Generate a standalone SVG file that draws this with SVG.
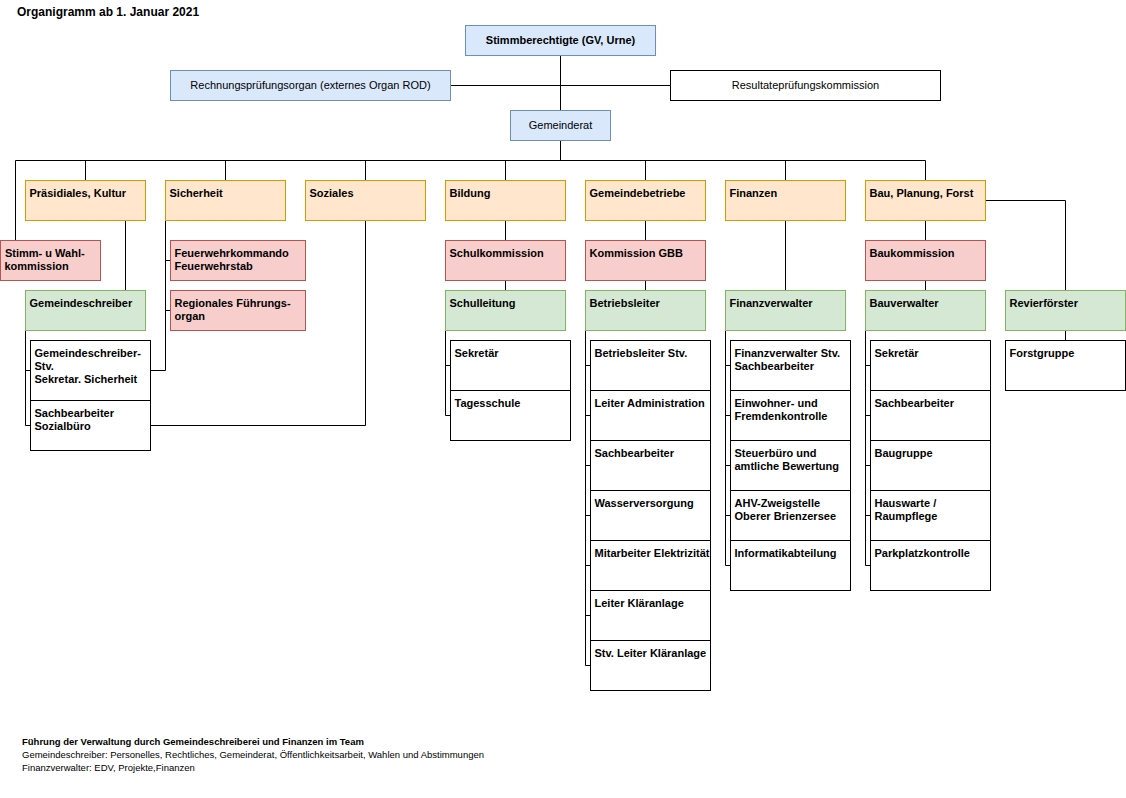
<svg xmlns="http://www.w3.org/2000/svg" width="1126" height="798" viewBox="0 0 1126 798">
<style>
.o{fill:#ffe6cc;stroke:#d79b00}
.r{fill:#f8cecc;stroke:#b85450}
.g{fill:#d5e8d4;stroke:#82b366}
.b{fill:#dae8fc;stroke:#6c8ebf}
.w{fill:#ffffff;stroke:#000000}
text{font-family:"Liberation Sans",Arial,sans-serif;font-size:11px;fill:#000}
.t{font-weight:bold}
.c{text-anchor:middle}
.f{font-size:9.5px}
#connectors path{fill:none;stroke:#000;stroke-width:1}
</style>
<rect width="1126" height="798" fill="#ffffff"/>
<text x="17" y="16" class="t" style="font-size:12px">Organigramm ab 1. Januar 2021</text>

<g id="connectors">
<path d="M560.5 55.5V110.5M450.5 85.5H670.5M560.5 140.5V160.5M15.5 160.5H925.5M15.5 160.5V240.5M85.5 160.5V180.5M225.5 160.5V180.5M365.5 160.5V180.5M505.5 160.5V180.5M645.5 160.5V180.5M785.5 160.5V180.5M925.5 160.5V180.5"/>
<path d="M125.5 220.5V290.5"/>
<path d="M165.5 220.5V370.5H150.5M165.5 260.5H170.5M165.5 310.5H170.5"/>
<path d="M365.5 220.5V425.5H150.5"/>
<path d="M25.5 330.5V425.5H30.5M25.5 370.5H30.5"/>
<path d="M505.5 220.5V240.5M505.5 280.5V290.5M445.5 330.5V415.5H450.5M445.5 365.5H450.5"/>
<path d="M645.5 220.5V240.5M645.5 280.5V290.5M585.5 330.5V665.5H590.5M585.5 365.5H590.5M585.5 415.5H590.5M585.5 465.5H590.5M585.5 515.5H590.5M585.5 565.5H590.5M585.5 615.5H590.5"/>
<path d="M785.5 220.5V290.5M725.5 330.5V565.5H730.5M725.5 365.5H730.5M725.5 415.5H730.5M725.5 465.5H730.5M725.5 515.5H730.5"/>
<path d="M925.5 220.5V240.5M925.5 280.5V290.5M865.5 330.5V565.5H870.5M865.5 365.5H870.5M865.5 415.5H870.5M865.5 465.5H870.5M865.5 515.5H870.5"/>
<path d="M985.5 200.5H1065.5V290.5M1065.5 330.5V340.5"/>
</g>

<g id="stimmberechtigte"><rect class="b" x="465.5" y="25.5" width="190" height="30"/><text class="t c" x="560.5" y="44">Stimmberechtigte (GV, Urne)</text></g>
<g id="rpo"><rect class="b" x="170.5" y="70.5" width="280" height="30"/><text class="c" x="310.5" y="89">Rechnungsprüfungsorgan (externes Organ ROD)</text></g>
<g id="rpk"><rect class="w" x="670.5" y="70.5" width="270" height="30"/><text class="c" x="805.5" y="89">Resultateprüfungskommission</text></g>
<g id="gemeinderat"><rect class="b" x="510.5" y="110.5" width="100" height="30"/><text class="c" x="560.5" y="129">Gemeinderat</text></g>

<g id="praesidiales"><rect class="o" x="25.5" y="180.5" width="120" height="40"/><text class="t" x="29.5" y="197">Präsidiales, Kultur</text></g>
<g id="sicherheit"><rect class="o" x="165.5" y="180.5" width="120" height="40"/><text class="t" x="169.5" y="197">Sicherheit</text></g>
<g id="soziales"><rect class="o" x="305.5" y="180.5" width="120" height="40"/><text class="t" x="309.5" y="197">Soziales</text></g>
<g id="bildung"><rect class="o" x="445.5" y="180.5" width="120" height="40"/><text class="t" x="449.5" y="197">Bildung</text></g>
<g id="gemeindebetriebe"><rect class="o" x="585.5" y="180.5" width="120" height="40"/><text class="t" x="589.5" y="197">Gemeindebetriebe</text></g>
<g id="finanzen"><rect class="o" x="725.5" y="180.5" width="120" height="40"/><text class="t" x="729.5" y="197">Finanzen</text></g>
<g id="bau"><rect class="o" x="865.5" y="180.5" width="120" height="40"/><text class="t" x="869.5" y="197">Bau, Planung, Forst</text></g>

<g id="stimmwahl"><rect class="r" x="0.5" y="240.5" width="100" height="40"/><text class="t" x="5" y="257">Stimm- u Wahl-</text><text class="t" x="4.5" y="270">kommission</text></g>
<g id="feuerwehr"><rect class="r" x="170.5" y="240.5" width="135" height="40"/><text class="t" x="174.5" y="257">Feuerwehrkommando</text><text class="t" x="174.5" y="270">Feuerwehrstab</text></g>
<g id="rfo"><rect class="r" x="170.5" y="290.5" width="135" height="40"/><text class="t" x="174.5" y="307">Regionales Führungs-</text><text class="t" x="174.5" y="320">organ</text></g>
<g id="schulkommission"><rect class="r" x="445.5" y="240.5" width="120" height="40"/><text class="t" x="449.5" y="257">Schulkommission</text></g>
<g id="kommgbb"><rect class="r" x="585.5" y="240.5" width="120" height="40"/><text class="t" x="589.5" y="257">Kommission GBB</text></g>
<g id="baukommission"><rect class="r" x="865.5" y="240.5" width="120" height="40"/><text class="t" x="869.5" y="257">Baukommission</text></g>

<g id="gemeindeschreiber"><rect class="g" x="25.5" y="290.5" width="120" height="40"/><text class="t" x="29.5" y="307">Gemeindeschreiber</text></g>
<g id="schulleitung"><rect class="g" x="445.5" y="290.5" width="120" height="40"/><text class="t" x="449.5" y="307">Schulleitung</text></g>
<g id="betriebsleiter"><rect class="g" x="585.5" y="290.5" width="120" height="40"/><text class="t" x="589.5" y="307">Betriebsleiter</text></g>
<g id="finanzverwalter"><rect class="g" x="725.5" y="290.5" width="120" height="40"/><text class="t" x="729.5" y="307">Finanzverwalter</text></g>
<g id="bauverwalter"><rect class="g" x="865.5" y="290.5" width="120" height="40"/><text class="t" x="869.5" y="307">Bauverwalter</text></g>
<g id="revierfoerster"><rect class="g" x="1005.5" y="290.5" width="120" height="40"/><text class="t" x="1009.5" y="307">Revierförster</text></g>

<g id="gs-stv"><rect class="w" x="30.5" y="340.5" width="120" height="60"/><text class="t" x="34.5" y="357">Gemeindeschreiber-</text><text class="t" x="34.5" y="370">Stv.</text><text class="t" x="34.5" y="383">Sekretar. Sicherheit</text></g>
<g id="sb-sozial"><rect class="w" x="30.5" y="400.5" width="120" height="50"/><text class="t" x="34.5" y="417">Sachbearbeiter</text><text class="t" x="34.5" y="430">Sozialbüro</text></g>

<g id="bi-sekretaer"><rect class="w" x="450.5" y="340.5" width="120" height="50"/><text class="t" x="454.5" y="357">Sekretär</text></g>
<g id="bi-tagesschule"><rect class="w" x="450.5" y="390.5" width="120" height="50"/><text class="t" x="454.5" y="407">Tagesschule</text></g>

<g id="gb-1"><rect class="w" x="590.5" y="340.5" width="120" height="50"/><text class="t" x="594.5" y="357">Betriebsleiter Stv.</text></g>
<g id="gb-2"><rect class="w" x="590.5" y="390.5" width="120" height="50"/><text class="t" x="594.5" y="407">Leiter Administration</text></g>
<g id="gb-3"><rect class="w" x="590.5" y="440.5" width="120" height="50"/><text class="t" x="594.5" y="457">Sachbearbeiter</text></g>
<g id="gb-4"><rect class="w" x="590.5" y="490.5" width="120" height="50"/><text class="t" x="594.5" y="507">Wasserversorgung</text></g>
<g id="gb-5"><rect class="w" x="590.5" y="540.5" width="120" height="50"/><text class="t" x="594.5" y="557">Mitarbeiter Elektrizität</text></g>
<g id="gb-6"><rect class="w" x="590.5" y="590.5" width="120" height="50"/><text class="t" x="594.5" y="607">Leiter Kläranlage</text></g>
<g id="gb-7"><rect class="w" x="590.5" y="640.5" width="120" height="50"/><text class="t" x="594.5" y="657">Stv. Leiter Kläranlage</text></g>

<g id="fi-1"><rect class="w" x="730.5" y="340.5" width="120" height="50"/><text class="t" x="734.5" y="357">Finanzverwalter Stv.</text><text class="t" x="734.5" y="370">Sachbearbeiter</text></g>
<g id="fi-2"><rect class="w" x="730.5" y="390.5" width="120" height="50"/><text class="t" x="734.5" y="407">Einwohner- und</text><text class="t" x="734.5" y="420">Fremdenkontrolle</text></g>
<g id="fi-3"><rect class="w" x="730.5" y="440.5" width="120" height="50"/><text class="t" x="734.5" y="457">Steuerbüro und</text><text class="t" x="734.5" y="470">amtliche Bewertung</text></g>
<g id="fi-4"><rect class="w" x="730.5" y="490.5" width="120" height="50"/><text class="t" x="734.5" y="507">AHV-Zweigstelle</text><text class="t" x="734.5" y="520">Oberer Brienzersee</text></g>
<g id="fi-5"><rect class="w" x="730.5" y="540.5" width="120" height="50"/><text class="t" x="734.5" y="557">Informatikabteilung</text></g>

<g id="ba-1"><rect class="w" x="870.5" y="340.5" width="120" height="50"/><text class="t" x="874.5" y="357">Sekretär</text></g>
<g id="ba-2"><rect class="w" x="870.5" y="390.5" width="120" height="50"/><text class="t" x="874.5" y="407">Sachbearbeiter</text></g>
<g id="ba-3"><rect class="w" x="870.5" y="440.5" width="120" height="50"/><text class="t" x="874.5" y="457">Baugruppe</text></g>
<g id="ba-4"><rect class="w" x="870.5" y="490.5" width="120" height="50"/><text class="t" x="874.5" y="507">Hauswarte /</text><text class="t" x="874.5" y="520">Raumpflege</text></g>
<g id="ba-5"><rect class="w" x="870.5" y="540.5" width="120" height="50"/><text class="t" x="874.5" y="557">Parkplatzkontrolle</text></g>

<g id="forstgruppe"><rect class="w" x="1005.5" y="340.5" width="120" height="50"/><text class="t" x="1009.5" y="357">Forstgruppe</text></g>

<g id="footer">
<text class="t f" x="22" y="745">Führung der Verwaltung durch Gemeindeschreiberei und Finanzen im Team</text>
<text class="f" x="22" y="758">Gemeindeschreiber: Personelles, Rechtliches, Gemeinderat, Öffentlichkeitsarbeit, Wahlen und Abstimmungen</text>
<text class="f" x="22" y="771">Finanzverwalter: EDV, Projekte,Finanzen</text>
</g>
</svg>
